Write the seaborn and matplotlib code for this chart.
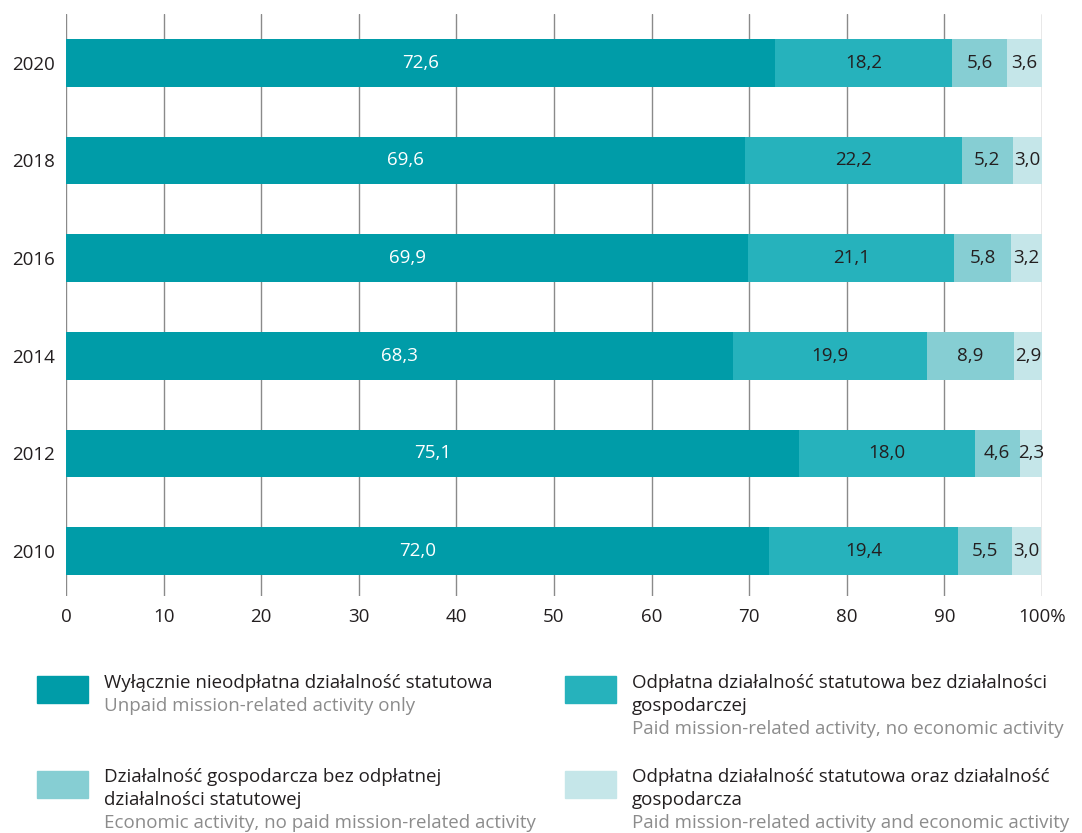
import numpy as np
import pandas as pd
import matplotlib
matplotlib.use("Agg")
import matplotlib.pyplot as plt
from matplotlib.patches import Rectangle
import seaborn as sns

# ---------- DATA ----------
years = ["2020", "2018", "2016", "2014", "2012", "2010"]
unpaid_only = [72.6, 69.6, 69.9, 68.3, 75.1, 72.0]
paid_no_econ = [18.2, 22.2, 21.1, 19.9, 18.0, 19.4]
econ_no_paid = [5.6, 5.2, 5.8, 8.9, 4.6, 5.5]
paid_and_econ = [3.6, 3.0, 3.2, 2.9, 2.3, 3.0]

series_pl = [
    "Wyłącznie nieodpłatna działalność statutowa",
    "Odpłatna działalność statutowa bez działalności\ngospodarczej",
    "Działalność gospodarcza bez odpłatnej\ndziałalności statutowej",
    "Odpłatna działalność statutowa oraz działalność\ngospodarcza",
]
series_en = [
    "Unpaid mission-related activity only",
    "Paid mission-related activity, no economic activity",
    "Economic activity, no paid mission-related activity",
    "Paid mission-related activity and economic activity",
]
colors = ["#009ca8", "#26b2bc", "#86ced3", "#c5e6e9"]
tick_labels = ["0", "10", "20", "30", "40", "50", "60", "70", "80", "90", "100%"]

# ---------- STYLE ----------
sns.set_style("white")
plt.rcParams["font.family"] = ["Open Sans", "DejaVu Sans"]
DARK = "#231f20"
GREY = "#8c8c8c"
FS = 13.5

W, H = 1082, 833
fig = plt.figure(figsize=(W / 100, H / 100), dpi=100)
ax = fig.add_axes([66 / W, 1 - 596 / H, (1042 - 66) / W, (596 - 14) / H])

df = pd.DataFrame({
    "year": years,
    "s0": unpaid_only,
    "s1": paid_no_econ,
    "s2": econ_no_paid,
    "s3": paid_and_econ,
})
cols = ["s0", "s1", "s2", "s3"]
cum = df[cols].cumsum(axis=1)

# draw the cumulative totals from widest to narrowest so the layers stack
for i in reversed(range(4)):
    sns.barplot(x=cum[cols[i]], y=df["year"], orient="h", color=colors[i],
                width=0.49, saturation=1, ax=ax, zorder=3, linewidth=0)

# value labels centred in each segment
for r in range(len(years)):
    start = 0.0
    for i, c in enumerate(cols):
        v = df.loc[r, c]
        ax.text(start + v / 2, r, f"{v:.1f}".replace(".", ","),
                ha="center", va="center", fontsize=FS,
                color="white" if i == 0 else DARK, zorder=5)
        start += v

ax.set_xlim(0, 100)
ax.set_ylim(5.46, -0.5)
ax.set_xticks(np.arange(0, 101, 10))
ax.set_xticklabels(tick_labels, fontsize=FS, color=DARK)
ax.tick_params(axis="x", length=0, pad=9)
ax.tick_params(axis="y", length=0, pad=8, labelsize=FS, labelcolor=DARK)
ax.set_xlabel("")
ax.set_ylabel("")
for x in range(0, 101, 10):
    ax.axvline(x, color="#8a8a8a", lw=1, zorder=1)
for s in ax.spines.values():
    s.set_visible(False)

# ---------- LEGEND ----------
def px(x, y):
    return x / W, 1 - y / H

legend_pos = [(37, 676, 104, 683), (565, 676, 632, 683),
              (37, 771, 104, 777), (565, 771, 632, 777)]
for i, (bx, by, tx, ty) in enumerate(legend_pos):
    fig.patches.append(Rectangle(px(bx, by + 27), 51 / W, 27 / H,
                                 transform=fig.transFigure, color=colors[i]))
    lines = series_pl[i].split("\n")
    for j, line in enumerate(lines):
        fig.text(*px(tx, ty + 23 * j), line, fontsize=FS, color=DARK,
                 va="center", ha="left")
    fig.text(*px(tx, ty + 23 * len(lines)), series_en[i], fontsize=FS,
             color=GREY, va="center", ha="left")

fig.savefig("out.png", dpi=100)
